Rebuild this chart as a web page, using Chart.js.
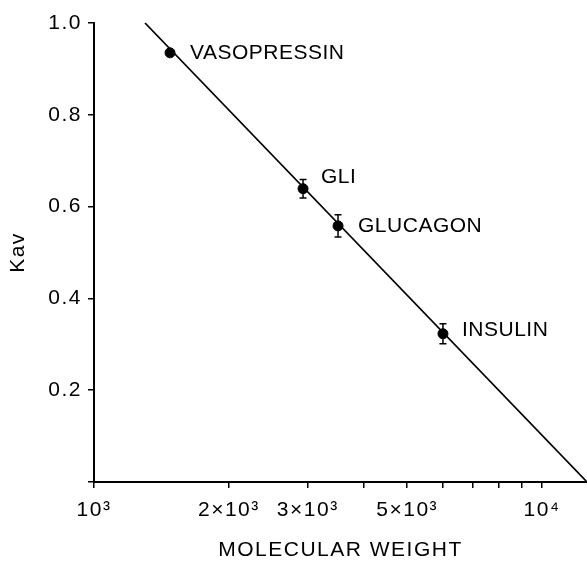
<!DOCTYPE html>
<html>
<head>
<meta charset="utf-8">
<script src="https://cdn.jsdelivr.net/npm/chart.js@4.4.1/dist/chart.umd.min.js"></script>
<style>
  html, body { margin: 0; padding: 0; background: #fff; }
  #wrap { width: 587px; height: 570px; }
</style>
</head>
<body>
<div id="wrap"><canvas id="kavChart"></canvas></div>
<script>
// peptides
const names = ['VASOPRESSIN', 'GLI', 'GLUCAGON', 'INSULIN'];
const molWeights = [1478, 2928, 3505, 6010];
const kavValues = [0.935, 0.639, 0.558, 0.323];
const kavErrors = [0, 0.02, 0.024, 0.022];

// fitted calibration line end points
const fitX = [1300, 12600];
const fitY = [1.0, 0.0];

const xTickValues = [1000, 2000, 3000, 4000, 5000, 6000, 7000, 8000, 9000, 10000];
const xTickLabels = ['10³', '2×10³', '3×10³', '', '5×10³', '', '', '', '', '10⁴'];
const yTickValues = [0, 0.2, 0.4, 0.6, 0.8, 1.0];
const yTickLabels = ['', '0.2', '0.4', '0.6', '0.8', '1.0'];

const FONT = 'Liberation Sans';

document.addEventListener('DOMContentLoaded', function() {
    const points = molWeights.map(function(w, i) { return { x: w, y: kavValues[i] }; });
    const fitLine = fitX.map(function(w, i) { return { x: w, y: fitY[i] }; });

    // label offsets from each point, pixels
    const labelOffsets = [[20, 0], [18, -11], [20, 0], [19, -4]];

    // wider lettering like the original stencil text
    const spacing = {
        id: 'spacing',
        beforeDraw: function(chart) {
            if ('letterSpacing' in chart.ctx) chart.ctx.letterSpacing = '1.5px';
        },
        afterDraw: function(chart) {
            if ('letterSpacing' in chart.ctx) chart.ctx.letterSpacing = '0px';
        }
    };

    const errorBars = {
        id: 'errorBars',
        afterDatasetsDraw: function(chart) {
            const ctx = chart.ctx;
            const xs = chart.scales.x, ys = chart.scales.y;
            ctx.save();
            ctx.strokeStyle = '#000';
            ctx.lineWidth = 1.5;
            molWeights.forEach(function(w, i) {
                if (!kavErrors[i]) return;
                const px = xs.getPixelForValue(w);
                const top = ys.getPixelForValue(kavValues[i] + kavErrors[i]);
                const bot = ys.getPixelForValue(kavValues[i] - kavErrors[i]);
                ctx.beginPath();
                ctx.moveTo(px, top); ctx.lineTo(px, bot);
                ctx.moveTo(px - 3.5, top); ctx.lineTo(px + 3.5, top);
                ctx.moveTo(px - 3.5, bot); ctx.lineTo(px + 3.5, bot);
                ctx.stroke();
            });
            // point names
            ctx.fillStyle = '#000';
            ctx.font = '21px "' + FONT + '"';
            ctx.textBaseline = 'middle';
            ctx.textAlign = 'left';
            if ('letterSpacing' in ctx) ctx.letterSpacing = '0.5px';
            names.forEach(function(n, i) {
                const px = xs.getPixelForValue(molWeights[i]);
                const py = ys.getPixelForValue(kavValues[i]);
                ctx.fillText(n, px + labelOffsets[i][0], py + labelOffsets[i][1]);
            });
            ctx.restore();
        }
    };

    const config = {
        type: 'scatter',
        data: {
            datasets: [
                {
                    data: fitLine,
                    showLine: true,
                    borderColor: '#000',
                    borderWidth: 1.8,
                    pointRadius: 0,
                    clip: false
                },
                {
                    data: points,
                    backgroundColor: '#000',
                    borderColor: '#000',
                    pointRadius: 5,
                    pointHoverRadius: 5
                }
            ]
        },
        options: {
            responsive: true,
            maintainAspectRatio: false,
            animation: false,
            layout: { autoPadding: false, padding: { top: 23, right: 0, left: 0, bottom: 0 } },
            plugins: {
                legend: { display: false },
                tooltip: { enabled: false }
            },
            scales: {
                x: {
                    type: 'logarithmic',
                    min: 1000,
                    max: 12600,
                    afterBuildTicks: function(scale) {
                        scale.ticks = xTickValues.map(function(v) { return { value: v }; });
                    },
                    afterFit: function(scale) { scale.height = 88; },
                    ticks: {
                        autoSkip: false,
                        maxRotation: 0,
                        color: '#000',
                        padding: 10,
                        font: { family: FONT, size: 21 },
                        callback: function(value) {
                            const i = xTickValues.indexOf(value);
                            return i < 0 ? '' : xTickLabels[i];
                        }
                    },
                    grid: { drawOnChartArea: false, tickLength: 6, color: '#000', lineWidth: 1.5 },
                    border: { color: '#000', width: 2 },
                    title: {
                        display: true,
                        text: 'MOLECULAR WEIGHT',
                        color: '#000',
                        font: { family: FONT, size: 21 },
                        padding: { top: 7, bottom: 7 }
                    }
                },
                y: {
                    min: 0,
                    max: 1.0,
                    afterBuildTicks: function(scale) {
                        scale.ticks = yTickValues.map(function(v) { return { value: v }; });
                    },
                    afterFit: function(scale) { scale.width = 94; },
                    ticks: {
                        color: '#000',
                        padding: 6,
                        font: { family: FONT, size: 21 },
                        callback: function(value) {
                            const i = yTickValues.indexOf(value);
                            return i < 0 ? '' : yTickLabels[i];
                        }
                    },
                    grid: { drawOnChartArea: false, tickLength: 6, color: '#000', lineWidth: 1.5 },
                    border: { color: '#000', width: 2 },
                    title: {
                        display: true,
                        text: 'Kav',
                        color: '#000',
                        font: { family: FONT, size: 21 },
                        padding: { top: 6, bottom: 6 }
                    }
                }
            }
        },
        plugins: [spacing, errorBars]
    };

    new Chart(document.getElementById('kavChart').getContext('2d'), config);
});
</script>
</body>
</html>
